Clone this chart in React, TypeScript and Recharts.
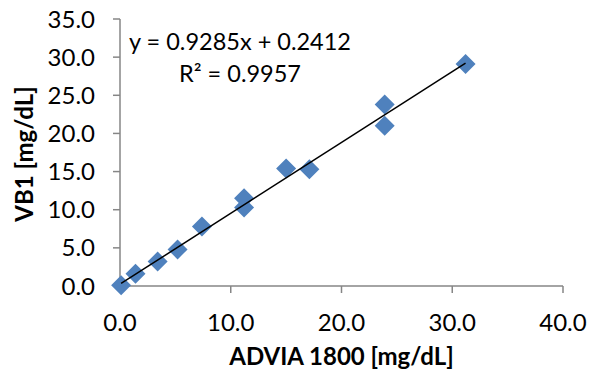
import { ScatterChart, Scatter, XAxis, YAxis } from "recharts";

// ADVIA 1800 vs VB1
const advia = [0.1, 1.4, 3.4, 5.2, 7.4, 11.2, 11.2, 15.0, 17.1, 23.9, 23.9, 31.2];
const vb1 = [0.1, 1.6, 3.2, 4.8, 7.8, 10.3, 11.5, 15.4, 15.3, 23.8, 21.0, 29.1];

const slope = 0.9285;
const intercept = 0.2412;
const r2 = 0.9957;

const xTicks = [0, 10, 20, 30, 40];
const yTicks = [0, 5, 10, 15, 20, 25, 30, 35];

const points = advia.map((x, i) => ({ x, y: vb1[i] }));
const xMin = Math.min(...advia);
const xMax = Math.max(...advia);
const trend = [
  { x: xMin, y: slope * xMin + intercept },
  { x: xMax, y: slope * xMax + intercept },
];

const FONT = "Lato, 'Open Sans', sans-serif";
const AXIS = "#868686";

const Diamond = (props: any) => {
  const { cx, cy } = props;
  const r = 10;
  return (
    <polygon
      points={`${cx},${cy - r} ${cx + r},${cy} ${cx},${cy + r} ${cx - r},${cy}`}
      fill="#4F81BD"
    />
  );
};

const NoDot = () => <g />;

const YLabel = () => (
  <text
    transform="translate(33,154) rotate(-90)"
    textAnchor="middle"
    fontFamily={FONT}
    fontSize={24}
    fontWeight={700}
    fill="#000"
  >
    VB1 [mg/dL]
  </text>
);

export default function App() {
  return (
    <div style={{ width: 598, height: 378, background: "#fff" }}>
      <style>{`body{margin:0}`}</style>
      <ScatterChart
        width={598}
        height={378}
        margin={{ top: 19, right: 35, left: 0, bottom: 0 }}
      >
        <XAxis
          type="number"
          dataKey="x"
          domain={[0, 40]}
          ticks={xTicks}
          tickFormatter={(v: number) => v.toFixed(1)}
          height={92}
          tickSize={7}
          tickMargin={21}
          stroke={AXIS}
          strokeWidth={1.5}
          tick={{ fill: "#000", fontSize: 24, fontFamily: FONT }}
          label={{
            value: "ADVIA 1800 [mg/dL]",
            position: "insideBottom",
            offset: 13,
            fill: "#000",
            fontSize: 24,
            fontWeight: 700,
            fontFamily: FONT,
          }}
        />
        <YAxis
          type="number"
          dataKey="y"
          domain={[0, 35]}
          ticks={yTicks}
          tickFormatter={(v: number) => v.toFixed(1)}
          width={120}
          tickSize={7}
          tickMargin={18}
          stroke={AXIS}
          strokeWidth={1.5}
          tick={{ fill: "#000", fontSize: 24, fontFamily: FONT }}
          label={<YLabel />}
        />
        <XAxis
          xAxisId="top"
          orientation="top"
          type="number"
          domain={[0, 40]}
          height={0}
          tick={false}
          tickLine={false}
          stroke={AXIS}
          strokeWidth={1.5}
        />
        <YAxis
          yAxisId="right"
          orientation="right"
          type="number"
          domain={[0, 35]}
          width={0}
          tick={false}
          tickLine={false}
          stroke={AXIS}
          strokeWidth={1.5}
        />
        <Scatter data={points} shape={Diamond} isAnimationActive={false} />
        <Scatter
          data={trend}
          shape={NoDot}
          line={{ stroke: "#000", strokeWidth: 1.5 }}
          isAnimationActive={false}
        />
        <text
          x={240}
          y={50}
          textAnchor="middle"
          fontFamily={FONT}
          fontSize={23.5}
          fill="#000"
        >
          {`y = ${slope}x + ${intercept}`}
        </text>
        <text
          x={240}
          y={82}
          textAnchor="middle"
          fontFamily={FONT}
          fontSize={23.5}
          fill="#000"
        >
          {`R² = ${r2}`}
        </text>
      </ScatterChart>
    </div>
  );
}
